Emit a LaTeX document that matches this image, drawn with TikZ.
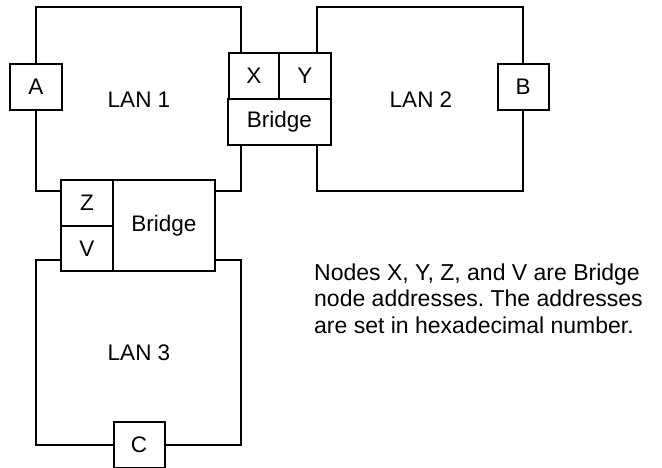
\documentclass[tikz,border=0pt]{standalone}
\usepackage{fontspec}
\setmainfont{Liberation Sans}
\begin{document}
\frenchspacing
\begin{tikzpicture}[x=1pt,y=-1pt,
  wire/.style={line width=2pt,line join=miter},
  bx/.style={draw,line width=2pt,fill=white,inner sep=0pt,font=\fontsize{22.5}{26}\selectfont},
  lbl/.style={font=\fontsize{22.5}{26}\selectfont}]
\useasboundingbox (0,0) rectangle (662,468);
% LAN loops
\draw[wire] (36,64) -- (36,7) -- (241,7) -- (241,53);
\draw[wire] (36,110) -- (36,191) -- (61,191);
\draw[wire] (215,191) -- (241,191) -- (241,145);
\draw[wire] (317,53) -- (317,7) -- (523,7) -- (523,64);
\draw[wire] (317,145) -- (317,191) -- (523,191) -- (523,110);
\draw[wire] (61,260) -- (36,260) -- (36,445) -- (113,445);
\draw[wire] (215,260) -- (241,260) -- (241,445) -- (164,445);
% end nodes
\node[bx,minimum width=52pt,minimum height=46pt] (A) at (36,87) {A};
\node[bx,minimum width=51pt,minimum height=46pt] (B) at (523,87) {B};
\node[bx,minimum width=51pt,minimum height=46pt] (C) at (139,445) {C};
% bridge 1
\node[bx,minimum width=103pt,minimum height=46pt] (br1) at (279.5,122) {Bridge};
\node[bx,minimum width=51pt,minimum height=46pt] (X) at (254,76) {X};
\node[bx,minimum width=52pt,minimum height=46pt] (Y) at (305,76) {Y};
% bridge 2
\node[bx,minimum width=102pt,minimum height=91pt] (br2) at (164,225.5) {Bridge};
\node[bx,minimum width=52pt,minimum height=46pt] (Z) at (87,203) {Z};
\node[bx,minimum width=52pt,minimum height=45pt] (V) at (87,248.5) {V};
% labels
\node[lbl] (lan1) at (139,100) {LAN 1};
\node[lbl] (lan2) at (421,100) {LAN 2};
\node[lbl] (lan3) at (139,353) {LAN 3};
\node[lbl,anchor=north west,align=left,inner sep=0pt,
  font=\fontsize{23}{26.5}\selectfont] (note) at (314,263.5)
  {Nodes X, Y, Z, and V are Bridge\\node addresses. The addresses\\are set in hexadecimal number.};
\end{tikzpicture}
\end{document}
